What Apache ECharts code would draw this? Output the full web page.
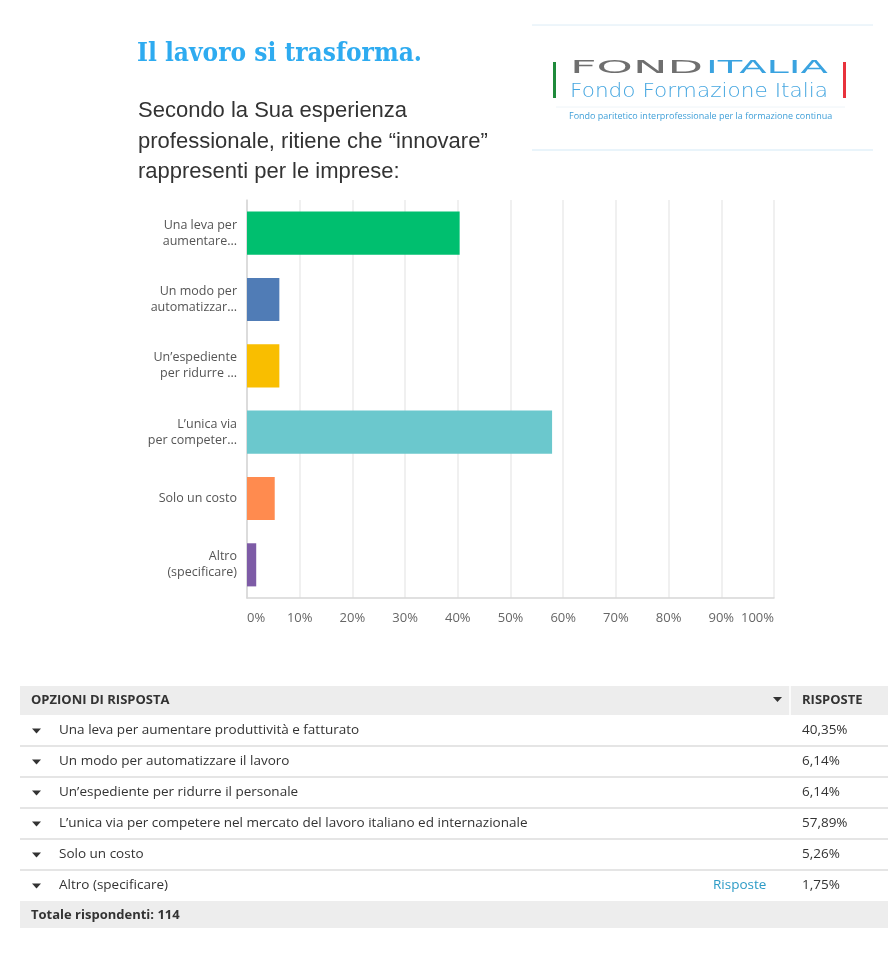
<!DOCTYPE html>
<html>
<head>
<meta charset="utf-8">
<script src="https://cdn.jsdelivr.net/npm/echarts@6/dist/echarts.min.js"></script>
<style>
html,body{margin:0;padding:0;background:#fff;}
#chart{width:893px;height:953px;}
</style>
</head>
<body>
<div id="chart"></div>
<script>
// ---- data ----
var categories = ["Una leva per\naumentare...", "Un modo per\nautomatizzar...", "Un’espediente\nper ridurre ...", "L’unica via\nper competer...", "Solo un costo", "Altro\n(specificare)"];
var fullLabels = ["Una leva per aumentare produttività e fatturato", "Un modo per automatizzare il lavoro", "Un’espediente per ridurre il personale", "L’unica via per competere nel mercato del lavoro italiano ed internazionale", "Solo un costo", "Altro (specificare)"];
var values = [40.35, 6.14, 6.14, 57.89, 5.26, 1.75];
var barColors = ["#00bf6f", "#507cb6", "#f9be00", "#6bc8cd", "#ff8b4f", "#7d5ba6"];
var xTicks = [0, 10, 20, 30, 40, 50, 60, 70, 80, 90, 100];
var totalRespondents = 114;
var titleText = "Il lavoro si trasforma.";
var questionLines = ["Secondo la Sua esperienza", "professionale, ritiene che “innovare”", "rappresenti per le imprese:"];

var chart = echarts.init(document.getElementById('chart'), null, {renderer: 'canvas'});
var FONT = '"Open Sans", "Noto Sans", sans-serif';

var mctx = document.createElement('canvas').getContext('2d');
function fitScale(text, font, targetW) {
  mctx.font = font;
  var w = mctx.measureText(text).width;
  return w > 0 ? targetW / w : 1;
}

var graphics = [];
// Title
graphics.push({type: 'text', left: 137, top: 41, style: {text: titleText, font: 'bold 26px "DejaVu Serif Condensed", "DejaVu Serif", serif', fill: '#2eabf0'}});
// Question
questionLines.forEach(function (t, i) {
  graphics.push({type: 'text', left: 138, top: 100 + i * 30.5, style: {text: t, font: '22px "Liberation Sans", Arial, sans-serif', fill: '#333333'}});
});
// Logo box
graphics.push({type: 'line', shape: {x1: 532, y1: 25, x2: 873, y2: 25}, style: {stroke: '#dcecf6', lineWidth: 1}});
graphics.push({type: 'line', shape: {x1: 532, y1: 150, x2: 873, y2: 150}, style: {stroke: '#d3e9f6', lineWidth: 1}});
graphics.push({type: 'line', shape: {x1: 556, y1: 107, x2: 845, y2: 107}, style: {stroke: '#eef4f8', lineWidth: 1}});
graphics.push({type: 'rect', shape: {x: 553, y: 62, width: 3, height: 36}, style: {fill: '#1f8a3b'}});
graphics.push({type: 'rect', shape: {x: 843, y: 62, width: 3, height: 36}, style: {fill: '#e8323c'}});
var logoFont = '17px "DejaVu Sans", sans-serif';
graphics.push({type: 'text', x: 570, y: 60, scaleX: fitScale('FOND', logoFont, 133), style: {text: 'FOND', font: logoFont, fill: '#6f6f6f'}});
graphics.push({type: 'text', x: 706, y: 60, scaleX: fitScale('ITALIA', logoFont, 122), style: {text: 'ITALIA', font: logoFont, fill: '#3aa3e0'}});
var subFont = '200 20px "DejaVu Sans", sans-serif';
graphics.push({type: 'text', x: 570, y: 82, scaleX: fitScale('Fondo Formazione Italia', subFont, 258), style: {text: 'Fondo Formazione Italia', font: subFont, fill: '#45a6e0'}});
graphics.push({type: 'text', left: 569, top: 112, style: {text: 'Fondo paritetico interprofessionale per la formazione continua', font: '9px "Open Sans", sans-serif', fill: '#3f9fd8'}});

// Table
var tX = 20, tW = 868, colX = 790;
var TF = '13.5px ' + FONT, TB = 'bold 13px ' + FONT;
graphics.push({type: 'rect', shape: {x: tX, y: 686, width: tW, height: 29}, style: {fill: '#ededed'}});
graphics.push({type: 'line', shape: {x1: colX, y1: 686, x2: colX, y2: 715}, style: {stroke: '#ffffff', lineWidth: 1.5}});
graphics.push({type: 'text', x: 31, y: 700.5, style: {text: 'OPZIONI DI RISPOSTA', font: TB, fill: '#333', verticalAlign: 'middle'}});
graphics.push({type: 'polygon', shape: {points: [[773, 697], [782, 697], [777.5, 702]]}, style: {fill: '#333'}});
graphics.push({type: 'text', x: 802, y: 700.5, style: {text: 'RISPOSTE', font: TB, fill: '#333', verticalAlign: 'middle'}});
var rowH = 31, rowTop = 715;
fullLabels.forEach(function (lab, i) {
  var yc = rowTop + i * rowH + rowH / 2;
  graphics.push({type: 'polygon', shape: {points: [[32, yc - 2], [41, yc - 2], [36.5, yc + 3]]}, style: {fill: '#333'}});
  graphics.push({type: 'text', x: 59, y: yc, style: {text: lab, font: TF, fill: '#333', verticalAlign: 'middle'}});
  graphics.push({type: 'text', x: 802, y: yc, style: {text: values[i].toFixed(2).replace('.', ',') + '%', font: TF, fill: '#333', verticalAlign: 'middle'}});
  if (i < fullLabels.length - 1) {
    graphics.push({type: 'line', shape: {x1: tX, y1: rowTop + (i + 1) * rowH, x2: tX + tW, y2: rowTop + (i + 1) * rowH}, style: {stroke: '#dcdcdc', lineWidth: 1.5}});
  }
  if (i === fullLabels.length - 1) {
    graphics.push({type: 'text', x: 713, y: yc, style: {text: 'Risposte', font: TF, fill: '#2d9bc6', verticalAlign: 'middle'}});
  }
});
var totTop = rowTop + fullLabels.length * rowH;
graphics.push({type: 'rect', shape: {x: tX, y: totTop, width: tW, height: 27}, style: {fill: '#ededed'}});
graphics.push({type: 'text', x: 31, y: totTop + 14.5, style: {text: 'Totale rispondenti: ' + totalRespondents, font: TB, fill: '#333', verticalAlign: 'middle'}});

var option = {
  backgroundColor: '#ffffff',
  animation: false,
  grid: {left: 247, right: 119, top: 200, height: 398, containLabel: false},
  xAxis: {
    type: 'value', min: xTicks[0], max: xTicks[xTicks.length - 1], interval: 10,
    axisLine: {show: true, lineStyle: {color: '#d6d6d6', width: 1.5}},
    axisTick: {show: false},
    splitLine: {show: true, lineStyle: {color: '#ebebeb', width: 1.5}},
    axisLabel: {formatter: '{value}%', color: '#666', fontSize: 13, fontFamily: FONT, margin: 14, alignMinLabel: 'left', alignMaxLabel: 'right'}
  },
  yAxis: {
    type: 'category', data: categories, inverse: true,
    axisLine: {show: true, lineStyle: {color: '#d6d6d6', width: 1.5}},
    axisTick: {show: false},
    splitLine: {show: false},
    axisLabel: {color: '#555', fontSize: 12.5, fontFamily: FONT, margin: 10, lineHeight: 16, align: 'right'}
  },
  series: [{
    type: 'bar',
    barWidth: '65%',
    data: values.map(function (v, i) { return {value: v, itemStyle: {color: barColors[i]}}; }),
    label: {show: false}
  }],
  graphic: graphics
};
chart.setOption(option);
</script>
</body>
</html>
